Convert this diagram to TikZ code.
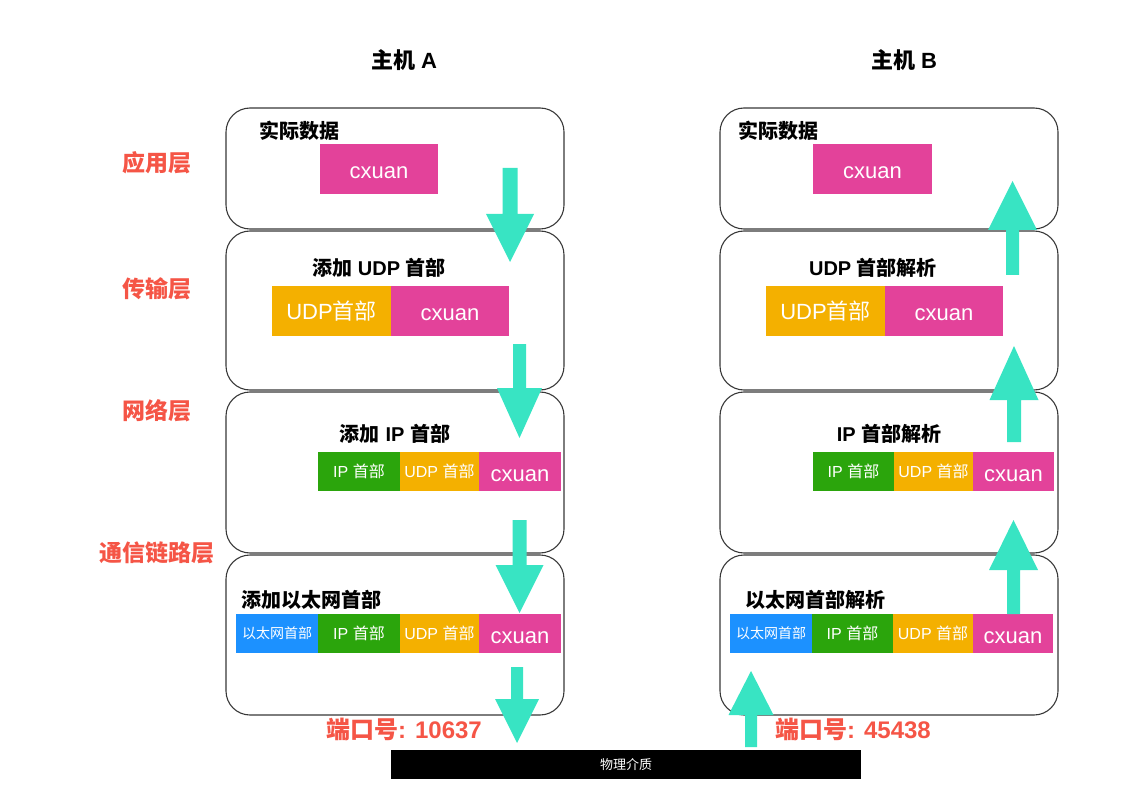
\documentclass[tikz,border=0pt]{standalone}
\usepackage{fontspec}
\setmainfont{Liberation Sans}
\newfontfamily\cn{Noto Sans CJK SC}
\definecolor{cpink}{RGB}{227,66,154}
\definecolor{corange}{RGB}{244,176,0}
\definecolor{cgreen}{RGB}{43,165,12}
\definecolor{cblue}{RGB}{28,145,255}
\definecolor{cteal}{RGB}{56,228,195}
\definecolor{cred}{RGB}{245,85,70}
\newcommand\fsz[1]{\fontsize{#1}{#1}\selectfont}
\newcommand\cx{\raisebox{-4pt}[\height][0pt]{cxuan}}
% x, shaft half width, head half width, y start, y head base, y tip
\newcommand\blockarrow[6]{%
  \fill[cteal] (#1-#2,#4) -- (#1+#2,#4) -- (#1+#2,#5) -- (#1+#3,#5) -- (#1,#6) -- (#1-#3,#5) -- (#1-#2,#5) -- cycle;}
\begin{document}
\begin{tikzpicture}[x=1pt,y=-1pt,
  layer/.style={draw=black!78, line width=1.1pt, rounded corners=24pt},
  seg/.style={inner sep=0pt, outer sep=0pt, anchor=north west, text=white},
  big/.style={seg, minimum width=118pt, minimum height=50pt, font=\fsz{22}},
  small/.style={seg, minimum height=39pt, font=\fsz{16}},
  head/.style={font=\bfseries\fsz{20}, inner sep=0pt},
  title/.style={font=\bfseries\fsz{22}, inner sep=0pt},
  lbl/.style={font=\bfseries\fsz{23}, text=cred, inner sep=0pt},
  ]
\useasboundingbox (0,0) rectangle (1135,810);

% titles
\node[title] (tA) at (404,60) {{\cn 主机} A};
\node[title] (tB) at (904,60) {{\cn 主机} B};

% layer labels
\node[lbl] (l1) at (157,163) {\cn 应用层};
\node[lbl] (l2) at (157,289) {\cn 传输层};
\node[lbl] (l3) at (157,411) {\cn 网络层};
\node[lbl] (l4) at (157,553) {\cn 通信链路层};

% left boxes
\draw[layer] (226,108) rectangle (564,229);
\draw[layer] (226,231) rectangle (564,390);
\draw[layer] (226,392) rectangle (564,553);
\draw[layer] (226,555) rectangle (564,715);
% right boxes
\draw[layer] (720,108) rectangle (1058,229);
\draw[layer] (720,231) rectangle (1058,390);
\draw[layer] (720,392) rectangle (1058,553);
\draw[layer] (720,555) rectangle (1058,715);

% ---- host A ----
\node[head, anchor=west] (ha1) at (259,131) {\cn 实际数据};
\node[big, fill=cpink] (a1p) at (320,144) {\cx};

\node[head] (ha2) at (379,268) {{\cn 添加} UDP {\cn 首部}};
\node[big, fill=corange, minimum width=119pt] (a2u) at (272,286) {UDP{\cn 首部}};
\node[big, fill=cpink] (a2p) at (391,286) {\cx};

\node[head] (ha3) at (395,434) {{\cn 添加} IP {\cn 首部}};
\node[small, fill=cgreen, minimum width=82pt] (a3i) at (318,452) {IP {\cn 首部}};
\node[small, fill=corange, minimum width=79pt] (a3u) at (400,452) {UDP {\cn 首部}};
\node[small, fill=cpink, minimum width=82pt, font=\fsz{22}] (a3p) at (479,452) {\cx};

\node[head, anchor=west] (ha4) at (241,600) {\cn 添加以太网首部};
\node[small, fill=cblue, minimum width=82pt, font=\fsz{14}] (a4e) at (236,614) {\cn 以太网首部};
\node[small, fill=cgreen, minimum width=82pt] (a4i) at (318,614) {IP {\cn 首部}};
\node[small, fill=corange, minimum width=79pt] (a4u) at (400,614) {UDP {\cn 首部}};
\node[small, fill=cpink, minimum width=82pt, font=\fsz{22}] (a4p) at (479,614) {\cx};

% ---- host B ----
\node[head, anchor=west] (hb1) at (738,131) {\cn 实际数据};
\node[big, fill=cpink, minimum width=119pt] (b1p) at (813,144) {\cx};

\node[head] (hb2) at (873,268) {UDP {\cn 首部解析}};
\node[big, fill=corange, minimum width=119pt] (b2u) at (766,286) {UDP{\cn 首部}};
\node[big, fill=cpink] (b2p) at (885,286) {\cx};

\node[head] (hb3) at (889,434) {IP {\cn 首部解析}};
\node[small, fill=cgreen, minimum width=81pt] (b3i) at (813,452) {IP {\cn 首部}};
\node[small, fill=corange, minimum width=79pt] (b3u) at (894,452) {UDP {\cn 首部}};
\node[small, fill=cpink, minimum width=81pt, font=\fsz{22}] (b3p) at (973,452) {\cx};

\node[head, anchor=west] (hb4) at (745,600) {\cn 以太网首部解析};
\node[small, fill=cblue, minimum width=82pt, font=\fsz{14}] (b4e) at (730,614) {\cn 以太网首部};
\node[small, fill=cgreen, minimum width=81pt] (b4i) at (812,614) {IP {\cn 首部}};
\node[small, fill=corange, minimum width=80pt] (b4u) at (893,614) {UDP {\cn 首部}};
\node[small, fill=cpink, minimum width=80pt, font=\fsz{22}] (b4p) at (973,614) {\cx};

% physical medium
\node[seg, fill=black, minimum width=470pt, minimum height=29pt, font=\fsz{13}] (phy) at (391,750) {\cn 物理介质};

% ports
\node[lbl, anchor=west, font=\bfseries\fsz{24}] (pA) at (326,729) {{\cn 端口号}: 10637};
\node[lbl, anchor=west, font=\bfseries\fsz{24}] (pB) at (775,729) {{\cn 端口号}: 45438};

% arrows host A (down)
\blockarrow{510}{7.5}{24}{168}{214}{262}
\blockarrow{519.5}{6.5}{22.5}{344}{388}{438}
\blockarrow{519.5}{7}{24}{520}{565}{613}
\blockarrow{517}{6}{22}{667}{699}{743}
% arrows host B (up)
\blockarrow{751}{6}{22.5}{747}{715}{671}
\blockarrow{1013.5}{6.5}{24.5}{614}{570}{520}
\blockarrow{1014}{7}{24.5}{442}{400}{346}
\blockarrow{1012.5}{6.5}{24.5}{275}{230}{181}
\end{tikzpicture}
\end{document}
